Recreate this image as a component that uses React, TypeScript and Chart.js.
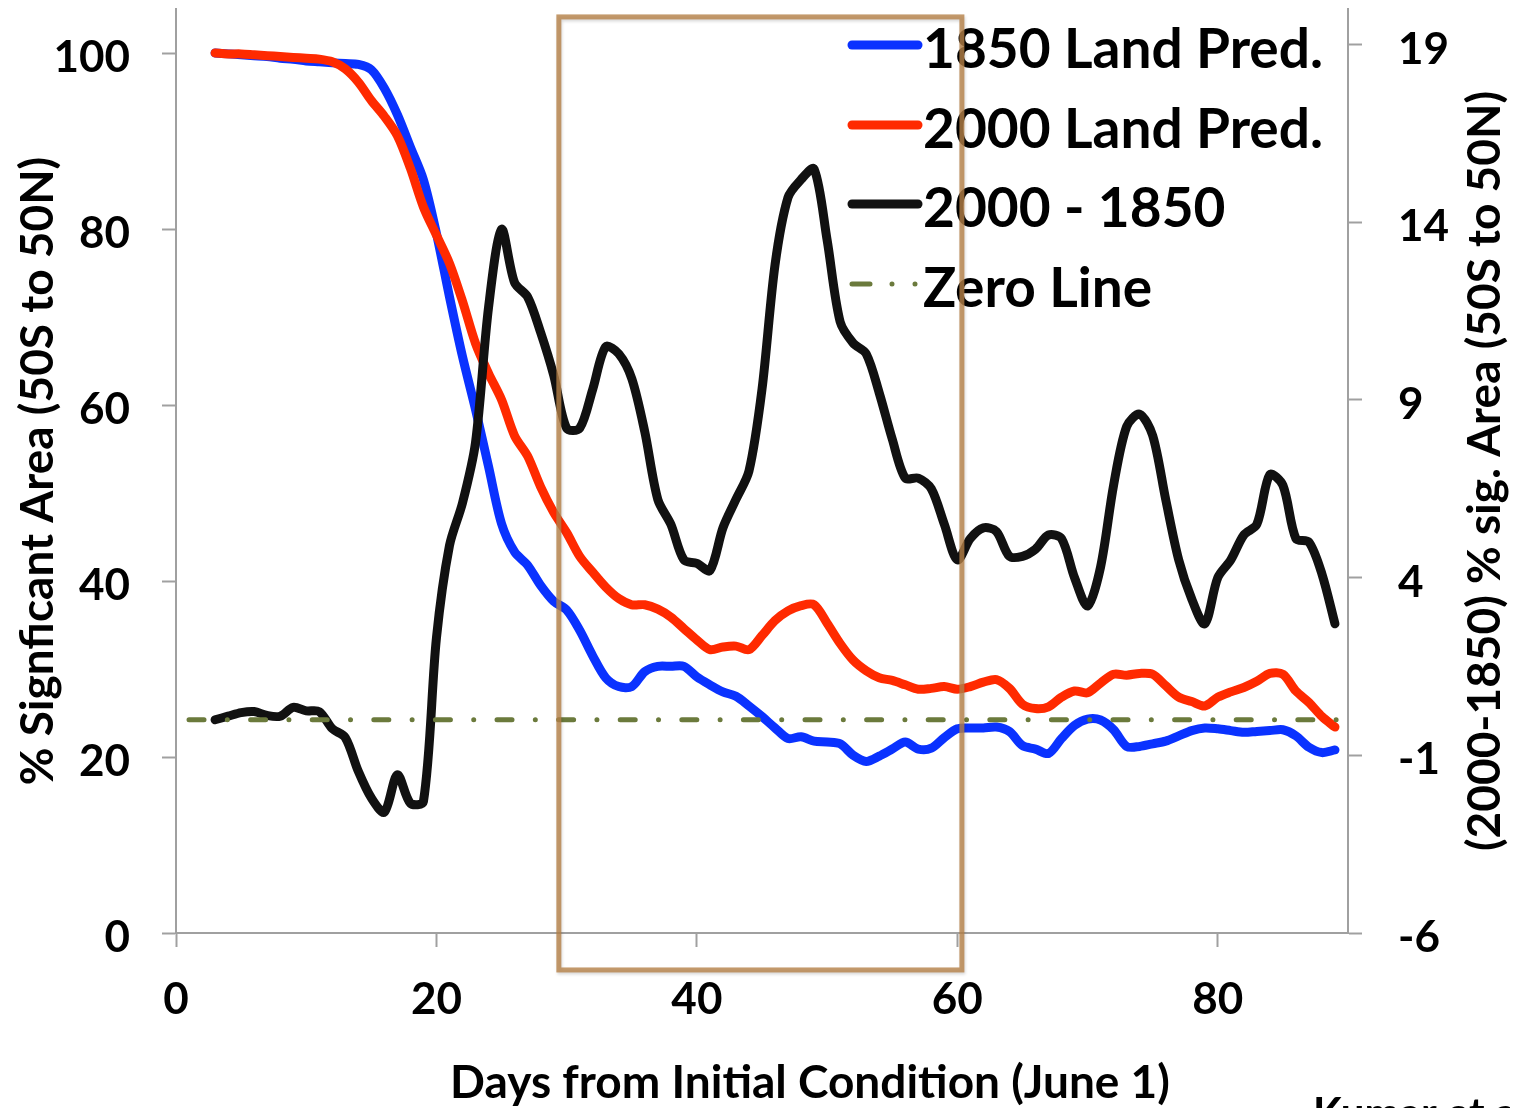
import React, { useEffect, useRef } from "react";
import { Chart, registerables } from "chart.js";

Chart.register(...registerables);

// Days after the initial condition (June 1) for the three predicted series
const DAYS = [
  3, 4, 5, 6, 7, 8, 9, 10, 11, 12, 13, 14, 15, 16, 17, 18, 19, 20, 21, 22,
  23, 24, 25, 26, 27, 28, 29, 30, 31, 32, 33, 34, 35, 36, 37, 38, 39, 40, 41, 42,
  43, 44, 45, 46, 47, 48, 49, 50, 51, 52, 53, 54, 55, 56, 57, 58, 59, 60, 61, 62,
  63, 64, 65, 66, 67, 68, 69, 70, 71, 72, 73, 74, 75, 76, 77, 78, 79, 80, 81, 82,
  83, 84, 85, 86, 87, 88, 89,
];

// % significant area, 1850 land prediction (left axis)
const LAND_1850 = [
  100.0, 99.9, 99.8, 99.7, 99.6, 99.4, 99.3, 99.1, 99.0, 98.9, 98.8, 98.7, 98.1, 96.0, 93.0, 89.3, 85.6, 79.5, 72.3, 65.5,
  59.5, 53.0, 46.5, 43.3, 41.8, 39.5, 37.7, 36.7, 34.4, 31.5, 29.0, 28.0, 28.0, 29.7, 30.3, 30.3, 30.3, 29.1, 28.2, 27.4,
  26.9, 25.8, 24.6, 23.3, 22.1, 22.3, 21.8, 21.7, 21.5, 20.2, 19.5, 20.1, 20.9, 21.7, 20.9, 21.0, 22.2, 23.2, 23.3, 23.3,
  23.4, 22.9, 21.3, 20.9, 20.4, 22.1, 23.6, 24.3, 24.2, 23.1, 21.2, 21.2, 21.5, 21.8, 22.4, 23.0, 23.3, 23.2, 23.0, 22.8,
  22.9, 23.0, 23.1, 22.4, 21.1, 20.5, 20.8,
];

// % significant area, 2000 land prediction (left axis)
const LAND_2000 = [
  100.0, 99.9, 99.9, 99.8, 99.7, 99.6, 99.5, 99.4, 99.3, 99.0, 98.2, 96.7, 94.6, 92.8, 90.6, 86.9, 82.5, 79.3, 76.1, 71.8,
  67.0, 63.6, 60.6, 56.5, 54.2, 50.7, 47.8, 45.5, 42.8, 41.0, 39.3, 38.0, 37.3, 37.3, 36.8, 35.9, 34.6, 33.3, 32.2, 32.5,
  32.6, 32.2, 33.8, 35.5, 36.6, 37.2, 37.3, 35.2, 32.9, 31.0, 29.8, 29.0, 28.7, 28.2, 27.7, 27.8, 28.0, 27.7, 28.0, 28.5,
  28.8, 27.8, 26.0, 25.5, 25.7, 26.8, 27.5, 27.3, 28.4, 29.4, 29.3, 29.5, 29.4, 28.1, 26.8, 26.3, 25.8, 26.8, 27.4, 27.9,
  28.6, 29.5, 29.4, 27.5, 26.2, 24.6, 23.4,
];

// Difference 2000 - 1850 in % significant area (right axis)
const DIFF_2000_1850 = [
  0.0, 0.1, 0.2, 0.23, 0.12, 0.1, 0.35, 0.25, 0.23, -0.25, -0.5, -1.45, -2.2, -2.6, -1.55, -2.35, -2.3, 2.3, 4.9, 6.1,
  7.8, 11.6, 13.8, 12.3, 11.9, 10.9, 9.7, 8.2, 8.2, 9.3, 10.5, 10.3, 9.6, 8.1, 6.2, 5.5, 4.5, 4.4, 4.2, 5.4,
  6.2, 7.0, 9.3, 12.8, 14.7, 15.2, 15.5, 13.5, 11.2, 10.6, 10.3, 9.2, 7.9, 6.8, 6.8, 6.5, 5.5, 4.5, 5.1, 5.4,
  5.3, 4.6, 4.6, 4.8, 5.2, 5.1, 4.0, 3.2, 4.3, 6.6, 8.25, 8.6, 8.0, 6.2, 4.5, 3.4, 2.7, 4.0, 4.5, 5.2,
  5.5, 6.9, 6.6, 5.1, 5.0, 4.1, 2.7,
];

// Reference line at zero on the difference axis
const ZERO_DAYS = [1, 90];
const ZERO_VALUES = [0, 0];

const X_TICKS = [0, 20, 40, 60, 80];
const LEFT_TICKS = [0, 20, 40, 60, 80, 100];
const RIGHT_TICKS = [-6, -1, 4, 9, 14, 19];

const SERIES_LABELS = ["1850 Land Pred.", "2000 Land Pred.", "2000 - 1850", "Zero Line"];
const X_TITLE = "Days from Initial Condition (June 1)";
const LEFT_TITLE = "% Signficant Area (50S to 50N)";
const RIGHT_TITLE = "(2000-1850) % sig. Area (50S to 50N)";
const CREDIT = "Kumar et al.";

// Highlighted window: days 29.4 to 60.35, drawn slightly beyond the axis range
const WINDOW_DAYS = [29.4, 60.35];
const WINDOW_PCT = [-4.2, 104.1];

const FONT = "Lato, 'Open Sans', sans-serif";
const AXIS_GREY = "#a0a0a0";
const ZERO_DASH = [15, 23.3, 0, 23.3];
const SERIES_WIDTH = 9;

const points = (xs: number[], ys: number[]) => xs.map((x, i) => ({ x, y: ys[i] }));

const decorations = {
  id: "decorations",
  afterDraw(chart: any) {
    const { ctx, chartArea, scales } = chart;
    const midY = (chartArea.top + chartArea.bottom) / 2;
    ctx.save();
    ctx.fillStyle = "#000";
    ctx.textBaseline = "alphabetic";

    // axis titles
    ctx.font = `bold 46px ${FONT}`;
    ctx.textAlign = "center";
    ctx.fillText(X_TITLE, 802, 1090);

    ctx.save();
    ctx.translate(45, midY);
    ctx.rotate(-Math.PI / 2);
    ctx.fillText(LEFT_TITLE, 0, 0);
    ctx.restore();

    ctx.save();
    ctx.translate(1492, midY);
    ctx.rotate(-Math.PI / 2);
    ctx.fillText(RIGHT_TITLE, 0, 0);
    ctx.restore();

    // legend
    const lx0 = 842;
    const lx1 = 910;
    const rowY = [37, 117, 196, 276];
    chart.data.datasets.forEach((ds: any, i: number) => {
      const y = rowY[i];
      ctx.save();
      ctx.strokeStyle = ds.borderColor;
      ctx.lineWidth = i === 3 ? 5 : SERIES_WIDTH;
      ctx.lineCap = "round";
      if (i === 3) {
        ctx.setLineDash([18, 22, 0, 23, 0, 200]);
      }
      ctx.beginPath();
      ctx.moveTo(lx0 + 2, y);
      ctx.lineTo(lx1, y);
      ctx.stroke();
      ctx.restore();
      ctx.font = `bold 55px ${FONT}`;
      ctx.textAlign = "left";
      ctx.fillText(SERIES_LABELS[i], 915, y + 23);
    });

    // highlighted window
    const bx0 = scales.x.getPixelForValue(WINDOW_DAYS[0]);
    const bx1 = scales.x.getPixelForValue(WINDOW_DAYS[1]);
    const by0 = scales.y.getPixelForValue(WINDOW_PCT[1]);
    const by1 = scales.y.getPixelForValue(WINDOW_PCT[0]);
    ctx.save();
    ctx.shadowColor = "rgba(0,0,0,0.18)";
    ctx.shadowBlur = 3;
    ctx.shadowOffsetX = 1;
    ctx.shadowOffsetY = 2;
    ctx.strokeStyle = "rgba(181,129,71,0.8)";
    ctx.lineWidth = 5;
    ctx.strokeRect(bx0, by0, bx1 - bx0, by1 - by0);
    ctx.restore();

    // source note (runs off the page edge)
    ctx.font = `bold 42px ${FONT}`;
    ctx.textAlign = "left";
    ctx.fillText(CREDIT, 1305, 1120);
    ctx.restore();
  },
};

const tickFont = { family: FONT, size: 44, weight: "bold" as const };
const gridTicksOnly = {
  display: true,
  drawOnChartArea: false,
  drawTicks: true,
  tickLength: 14,
  tickColor: AXIS_GREY,
  tickWidth: 2,
};
const border = { display: true, color: AXIS_GREY, width: 2 };

export default function App() {
  const canvasRef = useRef<HTMLCanvasElement | null>(null);

  useEffect(() => {
    const canvas = canvasRef.current;
    if (!canvas) return;
    const chart = new Chart(canvas, {
      type: "line",
      data: {
        datasets: [
          {
            label: SERIES_LABELS[0],
            data: points(DAYS, LAND_1850),
            yAxisID: "y",
            borderColor: "#0a32ff",
            borderWidth: SERIES_WIDTH,
            order: 4,
          },
          {
            label: SERIES_LABELS[1],
            data: points(DAYS, LAND_2000),
            yAxisID: "y",
            borderColor: "#ff2a00",
            borderWidth: SERIES_WIDTH,
            order: 3,
          },
          {
            label: SERIES_LABELS[2],
            data: points(DAYS, DIFF_2000_1850),
            yAxisID: "y2",
            borderColor: "#111111",
            borderWidth: SERIES_WIDTH,
            order: 2,
          },
          {
            label: SERIES_LABELS[3],
            data: points(ZERO_DAYS, ZERO_VALUES),
            yAxisID: "y2",
            borderColor: "#6b7a3c",
            borderWidth: 5,
            borderDash: ZERO_DASH,
            tension: 0,
            order: 1,
          },
        ],
      },
      options: {
        responsive: false,
        animation: false,
        events: [],
        layout: { padding: { top: 1, left: 0, right: 0, bottom: 0 } },
        elements: {
          point: { radius: 0, hoverRadius: 0 },
          line: { tension: 0.3, borderCapStyle: "round", borderJoinStyle: "round", fill: false },
        },
        plugins: {
          legend: { display: false },
          tooltip: { enabled: false },
          title: { display: false },
        },
        scales: {
          x: {
            type: "linear",
            min: 0,
            max: 90,
            afterBuildTicks: (s: any) => {
              s.ticks = X_TICKS.map((value) => ({ value }));
            },
            afterFit: (s: any) => {
              s.height = 175;
              s.paddingLeft = 0;
              s.paddingRight = 0;
            },
            ticks: { font: tickFont, color: "#000", padding: 26, maxRotation: 0 },
            grid: gridTicksOnly,
            border,
          },
          y: {
            type: "linear",
            position: "left",
            min: 0,
            max: 105,
            afterBuildTicks: (s: any) => {
              s.ticks = LEFT_TICKS.map((value) => ({ value }));
            },
            afterFit: (s: any) => {
              s.width = 168;
              s.paddingTop = 0;
              s.paddingBottom = 0;
            },
            ticks: { font: tickFont, color: "#000", padding: 32, labelOffset: 5 },
            grid: gridTicksOnly,
            border,
          },
          y2: {
            type: "linear",
            position: "right",
            min: -6,
            max: 20,
            afterBuildTicks: (s: any) => {
              s.ticks = RIGHT_TICKS.map((value) => ({ value }));
            },
            afterFit: (s: any) => {
              s.width = 162;
              s.paddingTop = 0;
              s.paddingBottom = 0;
            },
            ticks: { font: tickFont, color: "#000", padding: 36, labelOffset: 5 },
            grid: gridTicksOnly,
            border,
          },
        },
      },
      plugins: [decorations],
    } as any);
    return () => chart.destroy();
  }, []);

  return (
    <div style={{ width: 1502, height: 1100, background: "#fff" }}>
      <canvas ref={canvasRef} width={1502} height={1100} style={{ display: "block" }} />
    </div>
  );
}
